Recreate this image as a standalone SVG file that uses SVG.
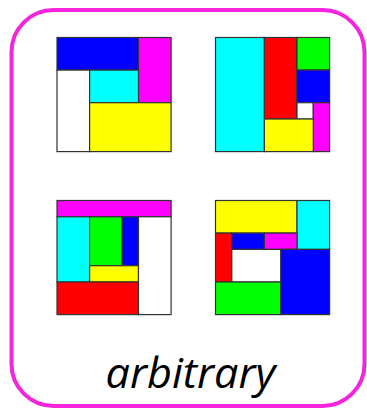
<svg xmlns="http://www.w3.org/2000/svg" width="367" height="409" viewBox="0 0 367 409">
<style>
rect.t{stroke:#333;stroke-width:1.2}
.b{fill:#0000ff}.m{fill:#ff00ff}.c{fill:#00ffff}.y{fill:#ffff00}.r{fill:#ff0000}.g{fill:#00ff00}.w{fill:#ffffff}
</style>
<rect x="0" y="0" width="367" height="409" fill="#ffffff"/>
<rect id="frame" x="11.5" y="10" width="353" height="396" rx="42" ry="42" fill="#ffffff" stroke="#f624dc" stroke-width="4"/>
<g id="square1">
<rect class="t b" x="57" y="37.5" width="81.5" height="32.6"/>
<rect class="t m" x="138.5" y="37.5" width="32.6" height="65.2"/>
<rect class="t w" x="57" y="70.1" width="32.6" height="81.5"/>
<rect class="t c" x="89.6" y="70.1" width="48.9" height="32.6"/>
<rect class="t y" x="89.6" y="102.7" width="81.5" height="48.9"/>
</g>
<g id="square2">
<rect class="t c" x="215.5" y="37.5" width="48.9" height="114.1"/>
<rect class="t r" x="264.4" y="37.5" width="32.6" height="81.5"/>
<rect class="t g" x="297" y="37.5" width="32.6" height="32.6"/>
<rect class="t b" x="297" y="70.1" width="32.6" height="32.6"/>
<rect class="t w" x="297" y="102.7" width="16.3" height="16.3"/>
<rect class="t m" x="313.3" y="102.7" width="16.3" height="48.9"/>
<rect class="t y" x="264.4" y="119" width="48.9" height="32.6"/>
</g>
<g id="square3">
<rect class="t m" x="57" y="200.5" width="114.1" height="16.3"/>
<rect class="t c" x="57" y="216.8" width="32.6" height="65.2"/>
<rect class="t g" x="89.6" y="216.8" width="32.6" height="48.9"/>
<rect class="t b" x="122.2" y="216.8" width="16.3" height="48.9"/>
<rect class="t y" x="89.6" y="265.7" width="48.9" height="16.3"/>
<rect class="t r" x="57" y="282" width="81.5" height="32.6"/>
<rect class="t w" x="138.5" y="216.8" width="32.6" height="97.8"/>
</g>
<g id="square4">
<rect class="t y" x="215.5" y="200.5" width="81.5" height="32.6"/>
<rect class="t c" x="297" y="200.5" width="32.6" height="48.9"/>
<rect class="t r" x="215.5" y="233.1" width="16.3" height="48.9"/>
<rect class="t b" x="231.8" y="233.1" width="32.6" height="16.3"/>
<rect class="t m" x="264.4" y="233.1" width="32.6" height="16.3"/>
<rect class="t w" x="231.8" y="249.4" width="65.2" height="32.6"/>
<rect class="t b" x="280.7" y="249.4" width="48.9" height="65.2"/>
<rect class="t g" x="215.5" y="282" width="65.2" height="32.6"/>
</g>
<g id="label">
<text x="190.5" y="388" text-anchor="middle" font-family="'Open Sans', 'Liberation Sans', sans-serif" font-style="italic" font-size="42" fill="#000" textLength="170" lengthAdjust="spacingAndGlyphs">arbitrary</text>
</g>
</svg>
